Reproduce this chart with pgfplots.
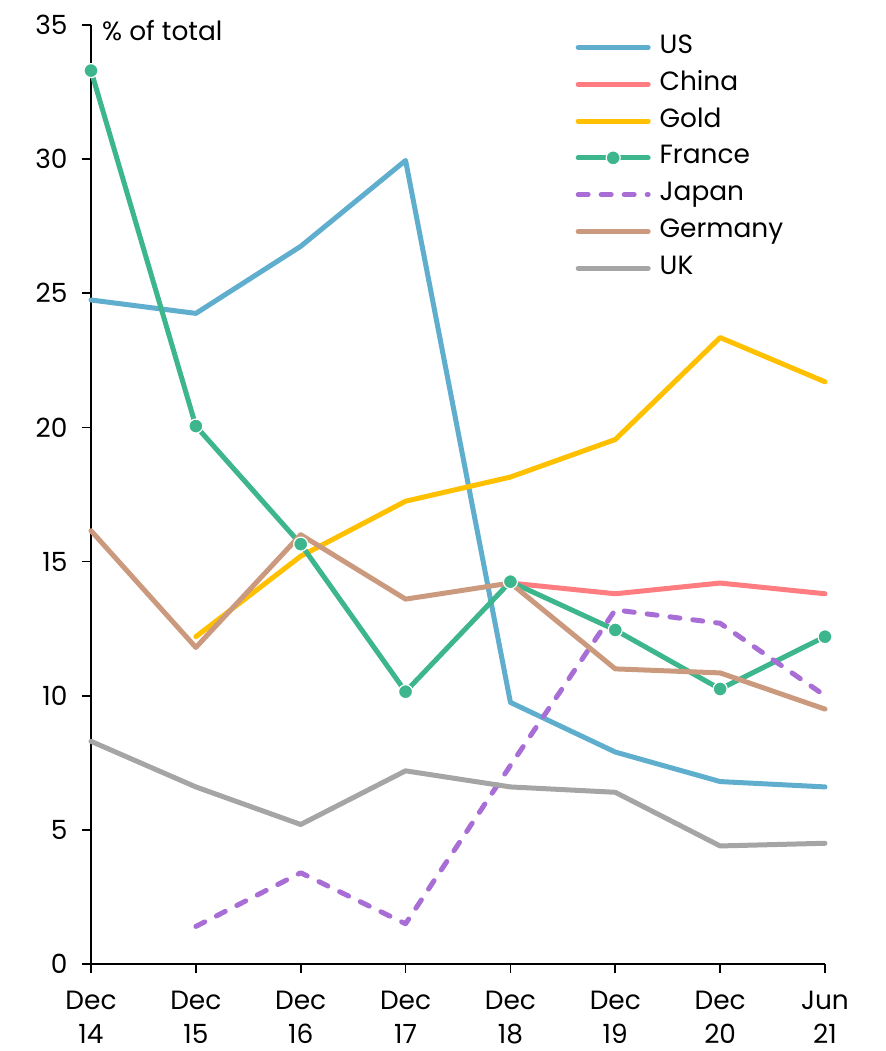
\documentclass[border=0pt]{standalone}
\usepackage{pgfplots}
\pgfplotsset{compat=1.18}
\usepackage{fontspec}
\setmainfont{Poppins}

\definecolor{cUS}{HTML}{5FAECE}
\definecolor{cChina}{HTML}{FF7C80}
\definecolor{cGold}{HTML}{FFC000}
\definecolor{cFrance}{HTML}{3DB68D}
\definecolor{cJapan}{HTML}{A86ED6}
\definecolor{cGermany}{HTML}{CB9A7E}
\definecolor{cUK}{HTML}{A5A5A5}

\newcommand\lbl{\fontsize{26.5}{34}\selectfont}

\begin{document}
\begin{tikzpicture}
\begin{axis}[
  at={(0,0)}, anchor=south west,
  scale only axis, width=734bp, height=939bp,
  xmin=0, xmax=7, ymin=0, ymax=35,
  axis lines*=left,
  axis line style={black, line width=1.6bp},
  clip=false,
  tick align=outside,
  major tick length=9bp,
  tick style={black, line width=1.6bp},
  ytick={0,5,...,35},
  xtick={0,...,7},
  xticklabels={{Dec\\14},{Dec\\15},{Dec\\16},{Dec\\17},{Dec\\18},{Dec\\19},{Dec\\20},{Jun\\21}},
  xticklabel style={align=center, font=\lbl, yshift=-15bp},
  yticklabel style={font=\lbl, xshift=-11bp},
  /pgf/number format/assume math mode=true,
  every axis plot/.append style={line width=5bp, line cap=round, line join=round},
  legend cell align=left,
  legend style={at={(rel axis cs:0.656,0.998)}, anchor=north west,
    draw=none, fill=none, font=\lbl, row sep=0bp,
    /tikz/every odd column/.append style={column sep=7bp},
    nodes={text height=19bp, text depth=7bp, inner ysep=5.4bp}},
  legend image code/.code={\draw[mark repeat=2,mark phase=2,#1]
    plot coordinates {(0bp,0bp) (35bp,0bp) (70bp,0bp)};},
]
\addplot[cUS] coordinates {(0,24.75)(1,24.25)(2,26.75)(3,29.95)(4,9.75)(5,7.9)(6,6.8)(7,6.6)};
\addlegendentry{US}
\addplot[cChina] coordinates {(4,14.2)(5,13.8)(6,14.2)(7,13.8)};
\addlegendentry{China}
\addplot[cGold] coordinates {(1,12.2)(2,15.2)(3,17.25)(4,18.15)(5,19.55)(6,23.35)(7,21.7)};
\addlegendentry{Gold}
\addplot[cFrance, mark=*, mark size=7bp,
  mark options={solid, fill=cFrance, draw=white, line width=1.2bp}]
  coordinates {(0,33.3)(1,20.05)(2,15.65)(3,10.15)(4,14.25)(5,12.45)(6,10.25)(7,12.2)};
\addlegendentry{France}
\addplot[cJapan, dash pattern=on 10bp off 13bp]
  coordinates {(1,1.4)(2,3.4)(3,1.5)(4,7.4)(5,13.2)(6,12.7)(7,10.0)};
\addlegendentry{Japan}
\addplot[cGermany] coordinates {(0,16.15)(1,11.8)(2,16.0)(3,13.6)(4,14.2)(5,11.0)(6,10.85)(7,9.5)};
\addlegendentry{Germany}
\addplot[cUK] coordinates {(0,8.3)(1,6.6)(2,5.2)(3,7.2)(4,6.6)(5,6.4)(6,4.4)(7,4.5)};
\addlegendentry{UK}
\node[anchor=west, font=\lbl, inner sep=0pt] at (rel axis cs:0.015,0.9936) {\% of total};
\end{axis}
\pgfresetboundingbox
\path (-91bp,-87bp) rectangle (795bp,964bp);
\end{tikzpicture}
\end{document}
